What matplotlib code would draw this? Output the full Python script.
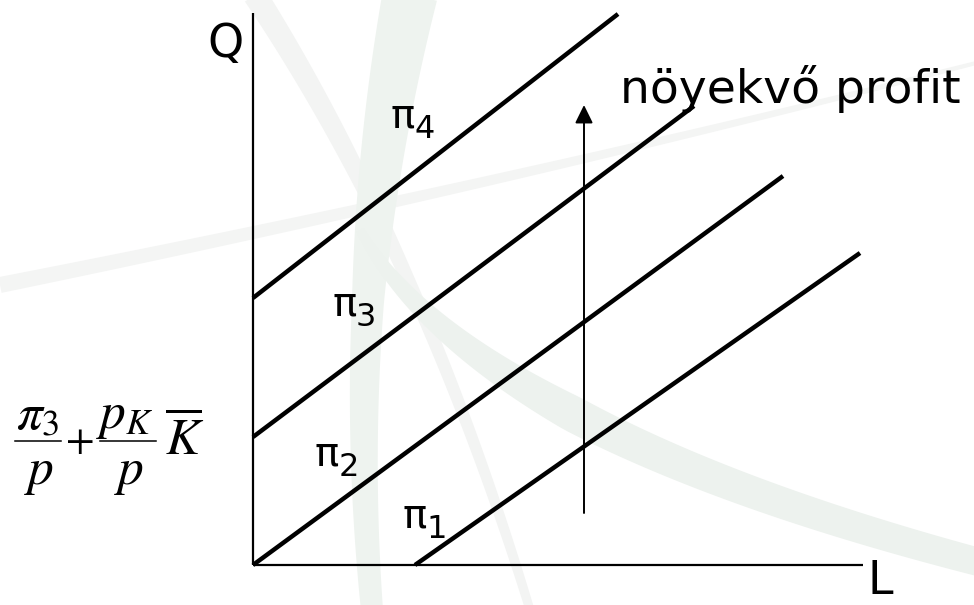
import numpy as np
import matplotlib
matplotlib.use('Agg')
import matplotlib.pyplot as plt

# isoprofit lines, in L / Q units (origin at the axes corner)
pi_subs = ['1', '2', '3', '4']
L_start = [162, 0, 0, 0]
Q_start = [0, 0, 128, 267]
L_end = [607, 530, 441, 365]
Q_end = [312, 389, 459, 551]
label_L = [149, 62, 79, 137]
label_Q = [38, 100, 250, 438]

L_max = 610
Q_max = 552
arrow_L = 331
arrow_Q = [52, 460]
arrow_text = 'nöyekvő profit'


def band(ax, p0, p1, p2, w0, w1, w2, color):
    # faint swoosh of the background logo, quadratic bezier with varying width
    t = np.linspace(0, 1, 80)[:, None]
    p0, p1, p2 = np.array(p0, float), np.array(p1, float), np.array(p2, float)
    c = (1 - t) ** 2 * p0 + 2 * (1 - t) * t * p1 + t ** 2 * p2
    d = 2 * (1 - t) * (p1 - p0) + 2 * t * (p2 - p1)
    n = np.column_stack([-d[:, 1], d[:, 0]])
    n = n / np.linalg.norm(n, axis=1)[:, None]
    tt = t[:, 0]
    w = np.where(tt < 0.5, w0 + (w1 - w0) * tt * 2, w1 + (w2 - w1) * (tt - 0.5) * 2)[:, None] / 2
    poly = np.vstack([c + n * w, (c - n * w)[::-1]])
    ax.fill(poly[:, 0], poly[:, 1], color=color, lw=0, zorder=0)


fig = plt.figure(figsize=(9.74, 6.05), dpi=100)
ax = fig.add_axes([0, 0, 1, 1])
ax.set_xlim(-253, 721)
ax.set_ylim(-40, 565)
ax.axis('off')

# background watermark (pixel positions turned into L/Q units)
px = lambda x, y: (x - 253, 565 - y)
band(ax, px(255, -5), px(420, 250), px(530, 610), 24, 14, 9, '#f3f4f3')
band(ax, px(0, 285), px(500, 185), px(980, 62), 16, 10, 4, '#f4f5f4')
band(ax, px(410, -5), px(345, 300), px(372, 610), 55, 32, 22, '#eef3ef')
band(ax, px(360, 230), px(470, 430), px(990, 565), 8, 36, 28, '#edf2ee')

# axes
ax.plot([0, 0], [0, Q_max], color='black', lw=1.6, solid_capstyle='butt')
ax.plot([0, L_max], [0, 0], color='black', lw=1.6, solid_capstyle='butt')
ax.text(-27, 508, 'Q', fontsize=33, ha='center', va='baseline')
ax.text(614, -39, 'L', fontsize=33, ha='left', va='bottom')

for i in range(len(L_start)):
    ax.plot([L_start[i], L_end[i]], [Q_start[i], Q_end[i]], color='black', lw=3.2,
            solid_capstyle='butt')
    ax.text(label_L[i], label_Q[i], 'π', fontsize=29, ha='left', va='baseline')
    ax.text(label_L[i] + 24, label_Q[i] - 11, pi_subs[i], fontsize=23,
            ha='left', va='baseline')

ax.annotate('', xy=(arrow_L, arrow_Q[1]), xytext=(arrow_L, arrow_Q[0]),
            arrowprops=dict(arrowstyle='-|>,head_length=0.55,head_width=0.27',
                            mutation_scale=20, color='black', lw=1.4,
                            shrinkA=0, shrinkB=0))
ax.text(367, 462, arrow_text, fontsize=34, ha='left', va='baseline')

# intercept formula pi3/p + pK/p * Kbar, set by hand so the fractions breathe
mf = dict(math_fontfamily='stix', va='baseline')
ax.text(*px(38, 430), r'$\pi_3$', fontsize=37, ha='center', **mf)
ax.plot(*zip(px(15, 441), px(61, 441)), color='black', lw=1.1)
ax.text(*px(39, 484), r'$p$', fontsize=37, ha='center', **mf)
ax.text(*px(79, 452), r'$+$', fontsize=30, ha='center', **mf)
ax.text(*px(125, 428), r'$p_K$', fontsize=37, ha='center', **mf)
ax.plot(*zip(px(100, 441), px(156, 441)), color='black', lw=1.1)
ax.text(*px(129, 484), r'$p$', fontsize=37, ha='center', **mf)
ax.text(*px(165, 455), r'$\overline{K}$', fontsize=37, ha='left', **mf)

fig.savefig('out.png', dpi=100)
